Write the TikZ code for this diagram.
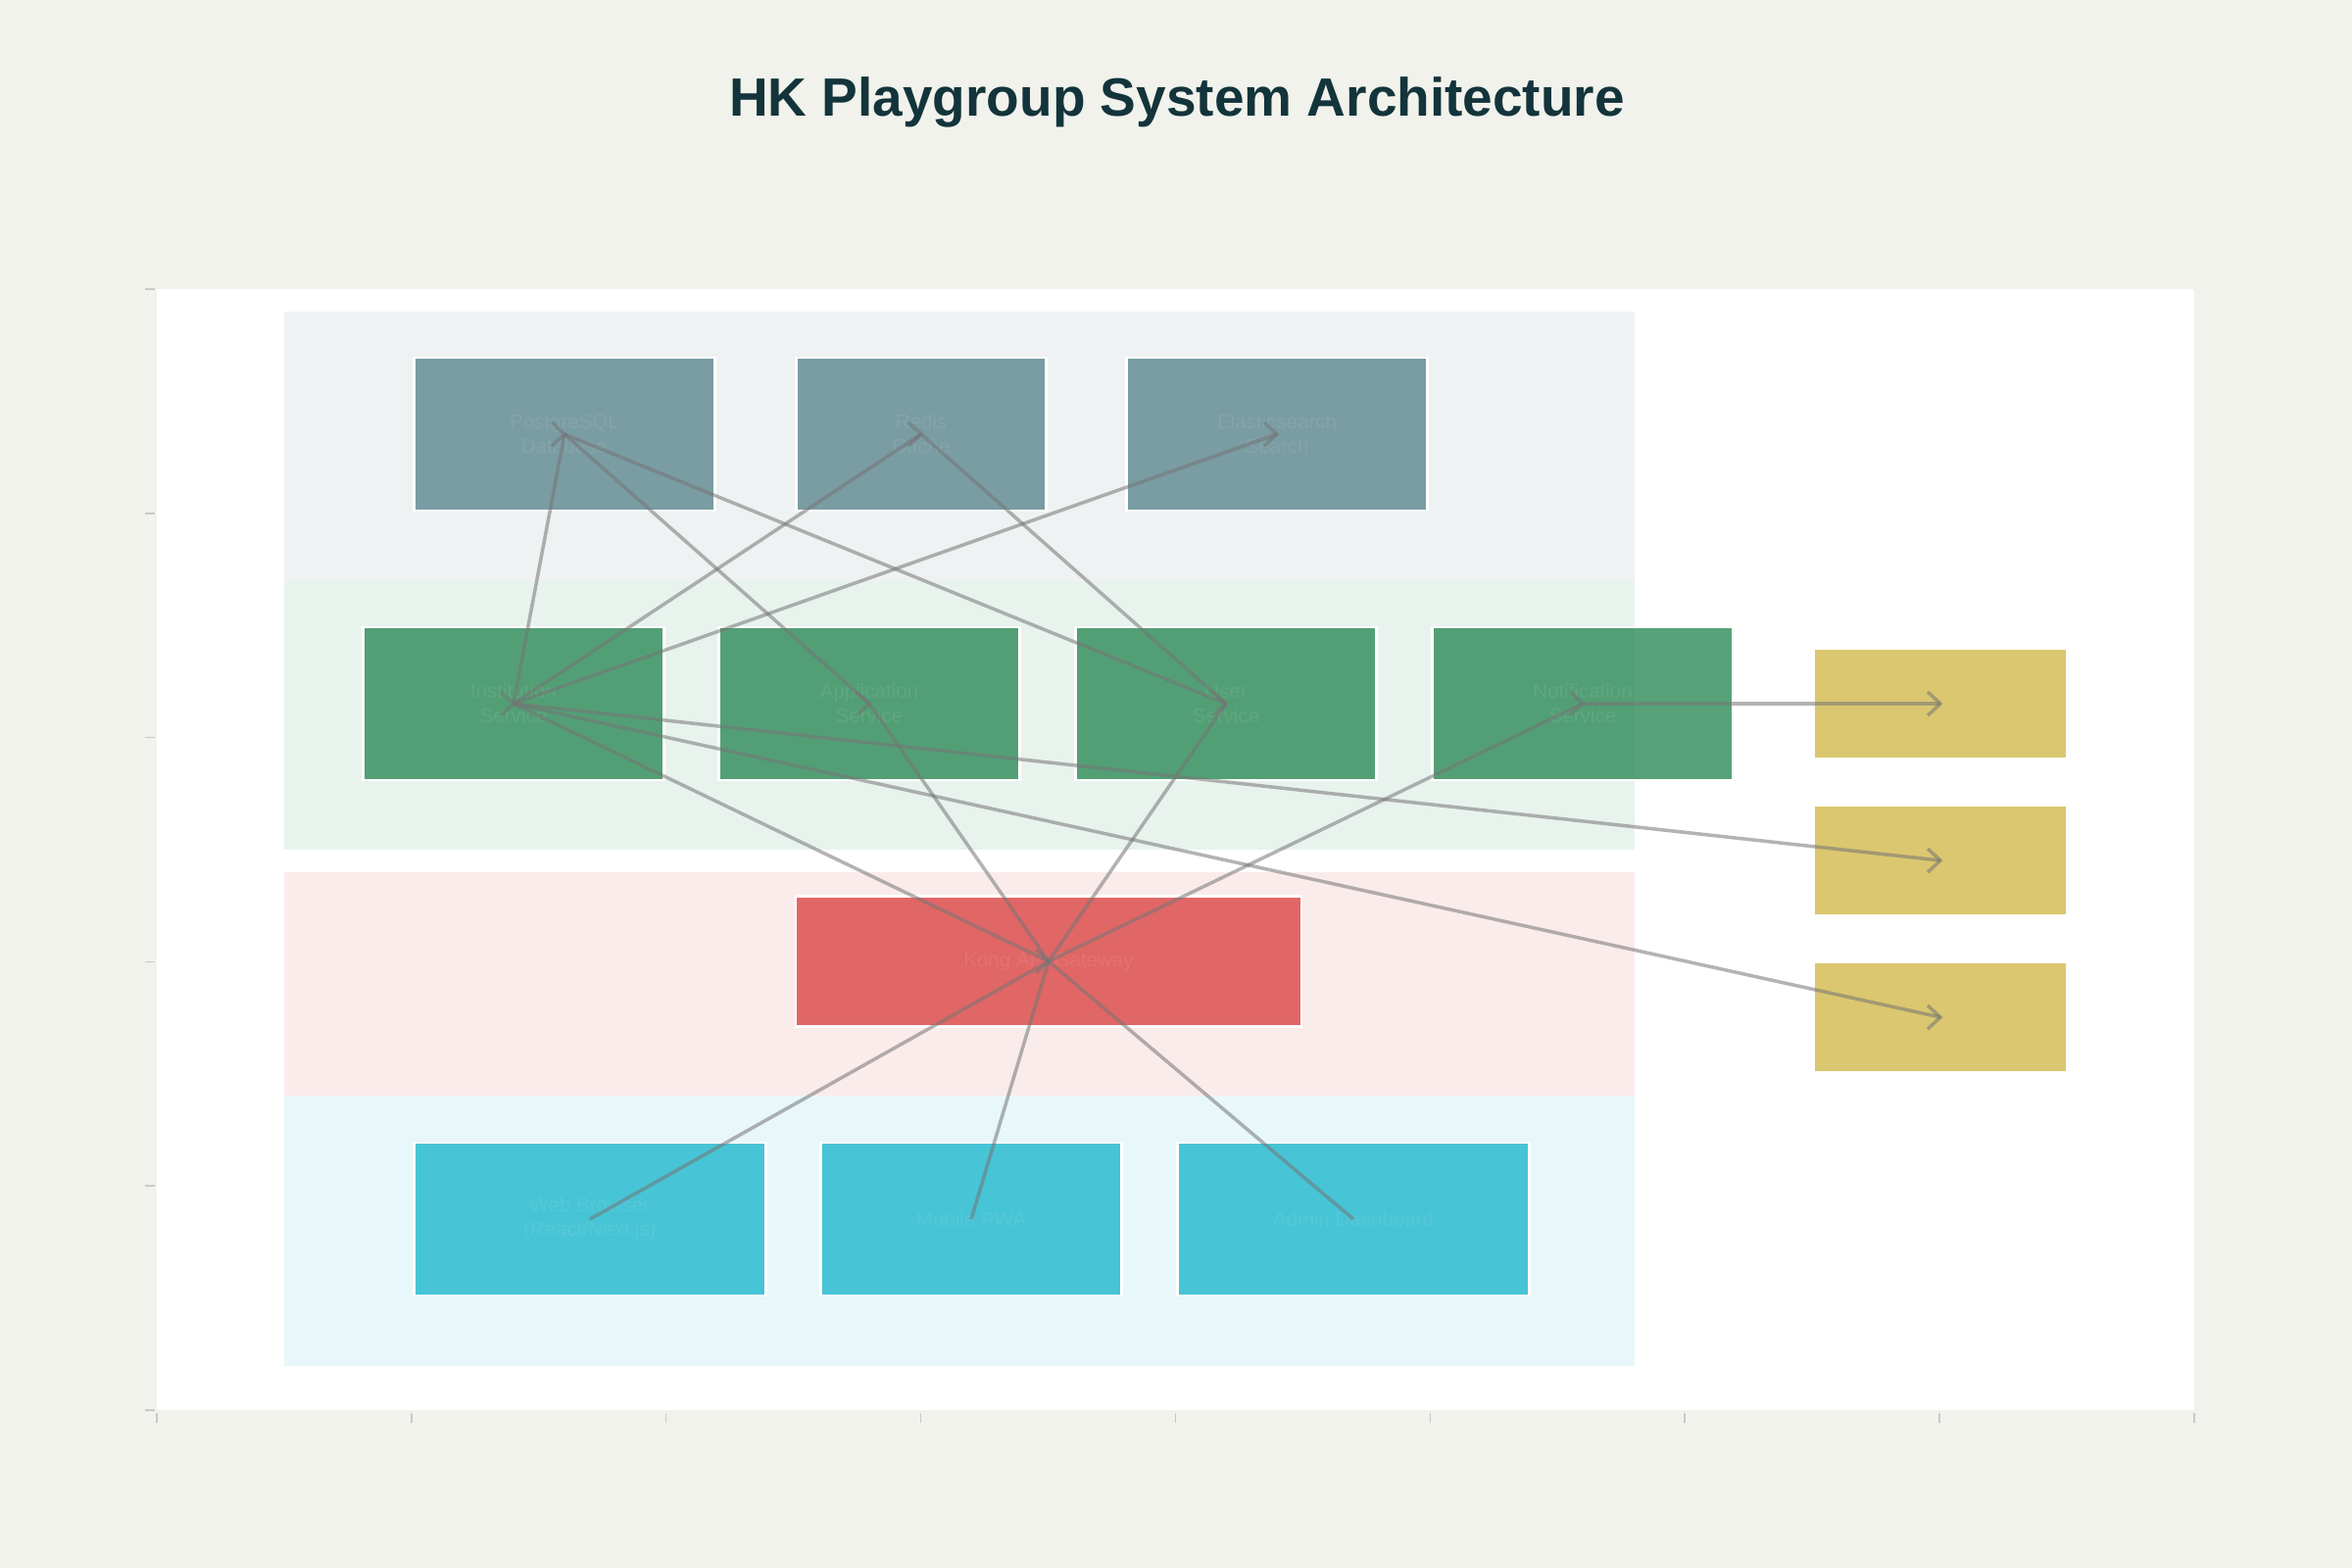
\documentclass[tikz,border=0pt]{standalone}
\usepackage{fontspec}
\setmainfont{Liberation Sans}
\definecolor{bg}{HTML}{F2F2EC}
\definecolor{titlec}{HTML}{13343B}
\definecolor{slate}{HTML}{5D878F}
\definecolor{sgreen}{HTML}{2E8B57}
\definecolor{cred}{HTML}{DB4545}
\definecolor{ccyan}{HTML}{1FB8CD}
\definecolor{cyell}{HTML}{D2BA4C}
\definecolor{tickc}{HTML}{C8C8C8}
\definecolor{linkc}{HTML}{757575}
\begin{document}
\begin{tikzpicture}[x=1pt,y=-1pt,
  box/.style={draw=white, line width=2.5pt, fill opacity=0.8, text=white, text opacity=0.08,
    inner sep=0pt, align=center, font=\fontsize{20.5}{25}\selectfont,
    minimum height=156pt},
  slatebox/.style={box, fill=slate},
  greenbox/.style={box, fill=sgreen},
  redbox/.style={box, fill=cred, minimum height=133pt},
  cyanbox/.style={box, fill=ccyan},
  yellbox/.style={box, draw=none, fill=cyell, minimum width=256pt, minimum height=110pt},
  layer/.style={fill opacity=0.1, draw=none},
  link/.style={draw=linkc, draw opacity=0.55, line width=3.5pt},
  tickline/.style={draw=tickc, line width=1.5pt}
]
\useasboundingbox (0,0) rectangle (2400,1600);
\fill[bg] (0,0) rectangle (2400,1600);
% plot area
\fill[white] (160,295) rectangle (2239,1439);
\foreach \k in {0,...,8} \draw[tickline] ({160+259.85*\k},1442) -- ++(0,10);
\foreach \k in {0,...,5} \draw[tickline] (148,{1439-228.8*\k}) -- (158,{1439-228.8*\k});
% title
\node[font=\bfseries\fontsize{55}{60}\selectfont, text=titlec] (title) at (1201,104) {HK Playgroup System Architecture};
% layers
\fill[layer, fill=slate] (290,318) rectangle (1668,593);
\fill[layer, fill=sgreen] (290,593) rectangle (1668,867);
\fill[layer, fill=cred] (290,890) rectangle (1668,1118);
\fill[layer, fill=ccyan] (290,1118) rectangle (1668,1394);
% data layer
\node[slatebox, minimum width=307pt] (pg) at (576,443) {PostgreSQL\\Database};
\node[slatebox, minimum width=255pt] (redis) at (940,443) {Redis\\Cache};
\node[slatebox, minimum width=307pt] (es) at (1303,443) {Elasticsearch\\Search};
% services
\node[greenbox, minimum width=307pt] (inst) at (524,718) {Institution\\Service};
\node[greenbox, minimum width=307pt] (app) at (887,718) {Application\\Service};
\node[greenbox, minimum width=307pt] (user) at (1251,718) {User\\Service};
\node[greenbox, minimum width=307pt] (notif) at (1615,718) {Notification\\Service};
% gateway
\node[redbox, minimum width=516pt] (gw) at (1070,981) {Kong API Gateway};
% clients
\node[cyanbox, minimum width=359pt] (web) at (602,1244) {Web Browser\\(React/Next.js)};
\node[cyanbox, minimum width=307pt] (mobile) at (991,1244) {Mobile PWA};
\node[cyanbox, minimum width=359pt] (admin) at (1381,1244) {Admin Dashboard};
% external
\node[yellbox] (ext1) at (1980,718) {};
\node[yellbox] (ext2) at (1980,878) {};
\node[yellbox] (ext3) at (1980,1038) {};
% connectors
\foreach \a/\b in {web/gw, mobile/gw, admin/gw, gw/inst, gw/app, gw/user, gw/notif,
  inst/pg, inst/redis, inst/es, app/pg, user/pg, user/redis, notif/ext1, inst/ext2, inst/ext3}
  \draw[link] (\a.center) -- (\b.center);
% arrow heads (all point right, at target centres)
\foreach \n in {pg, redis, es, inst, app, user, notif, gw, ext1, ext2, ext3}
  \draw[link] ([shift={(-13,-12)}]\n.center) -- (\n.center) -- ([shift={(-13,12)}]\n.center);
\end{tikzpicture}
\end{document}
